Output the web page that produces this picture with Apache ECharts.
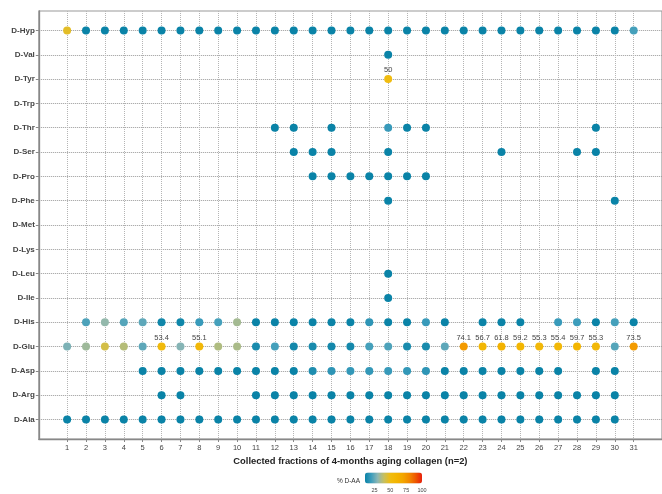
<!DOCTYPE html>
<html><head><meta charset="utf-8">
<script src="https://cdn.jsdelivr.net/npm/echarts@6/dist/echarts.min.js"></script>
<style>html,body{margin:0;padding:0;background:#fff}#c{width:662px;height:494px}</style>
</head><body><div id="c"></div>
<script>
const _ = null;
// x tick labels: collected fractions
const fractionTicks = [1,2,3,4,5,6,7,8,9,10,11,12,13,14,15,16,17,18,19,20,21,22,23,24,25,26,27,28,29,30,31];
// y categories, bottom to top
const aminoAcids = ['D-Ala','D-Arg','D-Asp','D-Glu','D-His','D-Ile','D-Leu','D-Lys','D-Met','D-Phe','D-Pro','D-Ser','D-Thr','D-Trp','D-Tyr','D-Val','D-Hyp'];
// % D-AA per fraction (index 0 = fraction 1), null = not detected
const dAla = [9,8,9,9,8,9,9,8,9,9,9,9,8,9,9,9,9,9,9,9,9,9,9,9,9,9,9,9,9,9,_];
const dArg = [_,_,_,_,_,10,9,_,_,_,9,9,9,9,9,9,9,9,9,9,9,9,9,9,9,9,9,9,9,9,_];
const dAsp = [_,_,_,_,9,9,9,9,9,9,9,9,10,14,17,18,18,19,18,17,10,9,9,9,9,9,9,_,9,9,_];
const dGlu = [28,33,43,37,24,53.4,29,55.1,36,35,13,21,12,13,12,12,21,22,13,13,24,74.1,56.7,61.8,59.2,55.3,55.4,59.7,55.3,23,73.5];
const dHis = [_,22,31,23,24,11,11,19,21,34,9,9,9,9,9,10,17,10,10,19,9,_,9,9,9,_,19,20,9,21,9];
const dIle = [_,_,_,_,_,_,_,_,_,_,_,_,_,_,_,_,_,9,_,_,_,_,_,_,_,_,_,_,_,_,_];
const dLeu = [_,_,_,_,_,_,_,_,_,_,_,_,_,_,_,_,_,9,_,_,_,_,_,_,_,_,_,_,_,_,_];
const dLys = [_,_,_,_,_,_,_,_,_,_,_,_,_,_,_,_,_,_,_,_,_,_,_,_,_,_,_,_,_,_,_];
const dMet = [_,_,_,_,_,_,_,_,_,_,_,_,_,_,_,_,_,_,_,_,_,_,_,_,_,_,_,_,_,_,_];
const dPhe = [_,_,_,_,_,_,_,_,_,_,_,_,_,_,_,_,_,9,_,_,_,_,_,_,_,_,_,_,_,9,_];
const dPro = [_,_,_,_,_,_,_,_,_,_,_,_,_,9,9,9,9,9,9,9,_,_,_,_,_,_,_,_,_,_,_];
const dSer = [_,_,_,_,_,_,_,_,_,_,_,_,9,9,9,_,_,9,_,_,_,_,_,9,_,_,_,9,9,_,_];
const dThr = [_,_,_,_,_,_,_,_,_,_,_,9,9,_,9,_,_,19,9,9,_,_,_,_,_,_,_,_,9,_,_];
const dTrp = [_,_,_,_,_,_,_,_,_,_,_,_,_,_,_,_,_,_,_,_,_,_,_,_,_,_,_,_,_,_,_];
const dTyr = [_,_,_,_,_,_,_,_,_,_,_,_,_,_,_,_,_,50,_,_,_,_,_,_,_,_,_,_,_,_,_];
const dVal = [_,_,_,_,_,_,_,_,_,_,_,_,_,_,_,_,_,9,_,_,_,_,_,_,_,_,_,_,_,_,_];
const dHyp = [47,9,9,9,9,9,9,9,9,9,9,9,9,9,9,9,9,9,9,9,9,9,9,9,9,9,9,9,9,9,21];
const rows = [dAla,dArg,dAsp,dGlu,dHis,dIle,dLeu,dLys,dMet,dPhe,dPro,dSer,dThr,dTrp,dTyr,dVal,dHyp];
// colour legend
const legendTicks = [25,50,75,100];
const colorMin = 10, colorMax = 100;
const colorStops = ['#0a83a7','#3d9dbc','#8db7b4','#c6bf5e','#f0bc10','#f3b500','#f3a600','#f28800','#ee5800','#e8200c'];

const points = [];
rows.forEach((vals, i) => vals.forEach((v, j) => { if (v !== null) points.push([fractionTicks[j], i + 1, v]); }));
const yTicks = aminoAcids.map((name, i) => i + 1);

const FONT = '"Liberation Sans", Arial, sans-serif';
const barLeft = 365, barTop = 472.5, barLen = 57, barThick = 11;

const chart = echarts.init(document.getElementById('c'));
chart.setOption({
  animation: false,
  grid: {left: 38.8, right: -7.5, top: 11, bottom: 55, show: true, borderColor: '#9a9a9a', borderWidth: 1.2},
  xAxis: {
    type: 'value', min: -0.5, max: 32.5,
    name: 'Collected fractions of 4-months aging collagen (n=2)', nameLocation: 'middle', nameGap: 18,
    nameTextStyle: {fontFamily: FONT, fontWeight: 'bold', fontSize: 9.4, color: '#222'},
    axisLine: {show: true, onZero: false, lineStyle: {color: '#888', width: 1.3}},
    axisTick: {show: true, length: 3, customValues: fractionTicks, lineStyle: {color: '#888'}},
    axisLabel: {customValues: fractionTicks, fontFamily: FONT, fontSize: 7.5, color: '#444', margin: 5},
    splitLine: {show: true, lineStyle: {type: 'dotted', color: '#b5b5b5', width: 1}}
  },
  yAxis: {
    type: 'value', min: 0.2, max: 17.8,
    axisLine: {show: true, onZero: false, lineStyle: {color: '#888', width: 1.3}},
    axisTick: {show: true, length: 3, customValues: yTicks, lineStyle: {color: '#888'}},
    axisLabel: {customValues: yTicks, formatter: v => aminoAcids[Math.round(v) - 1], fontFamily: FONT, fontWeight: 'bold', fontSize: 8, color: '#444', margin: 4},
    splitLine: {show: true, lineStyle: {type: 'dotted', color: '#999', width: 1}}
  },
  visualMap: {
    type: 'continuous', min: colorMin, max: colorMax, dimension: 2, seriesIndex: 0,
    orient: 'horizontal', left: barLeft, top: barTop, itemWidth: barThick, itemHeight: barLen,
    padding: 0, calculable: false, text: null, hoverLink: false,
    inRange: {color: colorStops}
  },
  series: [{
    type: 'scatter', data: points, symbolSize: 8, itemStyle: {opacity: 1},
    label: {show: true, position: 'top', distance: 1,
      formatter: p => p.value[2] >= 50 ? String(p.value[2]) : '',
      fontFamily: FONT, fontSize: 7.5, color: '#444'}
  }],
  graphic: [
    {type: 'text', x: barLeft - 5, y: barTop + barThick / 2 + 3, style: {text: '% D-AA', align: 'right', verticalAlign: 'middle', font: '6.5px ' + FONT, fill: '#333'}},
    ...legendTicks.map(t => ({type: 'text', x: barLeft + (t - colorMin) / (colorMax - colorMin) * barLen, y: 490, style: {text: String(t), align: 'center', verticalAlign: 'middle', font: '5.5px ' + FONT, fill: '#444'}}))
  ]
});
</script></body></html>
